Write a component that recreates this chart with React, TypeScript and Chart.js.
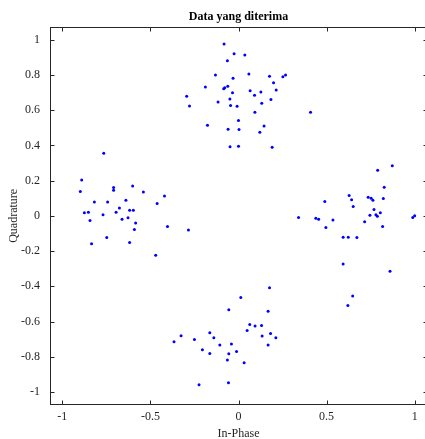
import React, { useEffect, useRef } from "react";
import { Chart, registerables } from "chart.js";

Chart.register(...registerables);

const chartTitle = "Data yang diterima";
const xAxisTitle = "In-Phase";
const yAxisTitle = "Quadrature";

const xTicks = [-1, -0.5, 0, 0.5, 1];
const xTickLabels = ["-1", "-0.5", "0", "0.5", "1"];
const yTicks = [-1, -0.8, -0.6, -0.4, -0.2, 0, 0.2, 0.4, 0.6, 0.8, 1];
const yTickLabels = ["-1", "-0.8", "-0.6", "-0.4", "-0.2", "0", "0.2", "0.4", "0.6", "0.8", "1"];
const axisMin = -1.07;
const axisMax = 1.07;

// Left cluster
const leftI = [-0.765, -0.89, -0.898, -0.709, -0.709, -0.601, -0.54, -0.42, -0.818, -0.743, -0.639, -0.676, -0.462, -0.875, -0.852, -0.769, -0.695, -0.618, -0.597, -0.843, -0.661, -0.627, -0.584, -0.403, -0.591, -0.834, -0.748, -0.618, -0.47, -0.284];
const leftQ = [0.356, 0.204, 0.138, 0.161, 0.146, 0.17, 0.136, 0.112, 0.078, 0.079, 0.089, 0.044, 0.07, 0.017, 0.021, 0.006, 0.021, 0.032, 0.032, -0.027, -0.019, -0.011, -0.04, -0.061, -0.078, -0.159, -0.123, -0.151, -0.223, -0.081];

// Top cluster
const topI = [-0.082, -0.025, 0.036, -0.063, -0.131, 0.059, 0.176, 0.252, 0.267, -0.031, 0.199, -0.188, -0.061, -0.078, -0.084, 0.214, 0.066, 0.127, -0.034, 0.091, -0.294, -0.049, 0.184, -0.116, 0.132, -0.278, -0.045, -0.008, 0.093, 0.409, 0.0, -0.176, 0.145, -0.059, 0.003, 0.121, -0.048, 0.0, 0.191];
const topQ = [0.976, 0.921, 0.913, 0.881, 0.8, 0.805, 0.792, 0.79, 0.8, 0.781, 0.756, 0.732, 0.736, 0.728, 0.722, 0.715, 0.711, 0.703, 0.699, 0.685, 0.679, 0.664, 0.66, 0.647, 0.639, 0.624, 0.626, 0.622, 0.588, 0.588, 0.541, 0.514, 0.51, 0.492, 0.49, 0.475, 0.393, 0.395, 0.39];

// Right cluster
const rightI = [0.873, 0.79, 0.827, 0.628, 0.736, 0.753, 0.763, 0.822, 0.642, 0.49, 0.651, 0.769, 0.805, 0.746, 0.78, 0.788, 0.341, 0.439, 0.455, 0.536, 0.716, 0.989, 1.0, 0.496, 0.818, 0.594, 0.623, 0.672, 0.594, 0.86, 0.648, 0.621];
const rightQ = [0.284, 0.259, 0.163, 0.115, 0.106, 0.1, 0.089, 0.098, 0.092, 0.081, 0.053, 0.036, 0.017, 0.004, 0.006, -0.002, -0.01, -0.013, -0.019, -0.024, -0.034, -0.01, 0.0, -0.066, -0.061, -0.121, -0.121, -0.123, -0.274, -0.314, -0.455, -0.509];

// Bottom cluster
const bottomI = [0.176, 0.013, -0.055, 0.168, 0.064, 0.094, 0.131, 0.049, -0.163, -0.326, -0.366, -0.14, -0.25, 0.182, 0.134, 0.212, -0.106, -0.04, 0.168, -0.205, -0.163, -0.055, -0.011, -0.063, 0.032, -0.224, -0.057];
const bottomQ = [-0.408, -0.463, -0.533, -0.541, -0.617, -0.626, -0.622, -0.651, -0.664, -0.681, -0.715, -0.692, -0.702, -0.668, -0.682, -0.692, -0.733, -0.728, -0.733, -0.76, -0.781, -0.783, -0.77, -0.819, -0.834, -0.959, -0.947];

const pairs = (xs: number[], ys: number[]) => xs.map((x, i) => ({ x, y: ys[i] }));

const TEXT = "#262626";
const FONT = "'Liberation Serif', 'Times New Roman', serif";

const boxPlugin = {
  id: "matlabBox",
  afterDatasetsDraw(chart: any) {
    const { ctx, chartArea, scales } = chart;
    const l = Math.round(chartArea.left) + 0.5;
    const r = Math.round(chartArea.right) + 0.5;
    const t = Math.round(chartArea.top) + 0.5;
    const b = Math.round(chartArea.bottom) + 0.5;
    const tl = 4;
    ctx.save();
    ctx.strokeStyle = TEXT;
    ctx.lineWidth = 1;
    ctx.strokeRect(l, t, r - l, b - t);
    ctx.beginPath();
    xTicks.forEach((v) => {
      const px = Math.round(scales.x.getPixelForValue(v)) + 0.5;
      ctx.moveTo(px, b);
      ctx.lineTo(px, b - tl);
      ctx.moveTo(px, t);
      ctx.lineTo(px, t + tl);
    });
    yTicks.forEach((v) => {
      const py = Math.round(scales.y.getPixelForValue(v)) + 0.5;
      ctx.moveTo(l, py);
      ctx.lineTo(l + tl, py);
      ctx.moveTo(r, py);
      ctx.lineTo(r - tl, py);
    });
    ctx.stroke();
    ctx.restore();
  },
};

export default function App() {
  const canvasRef = useRef<HTMLCanvasElement | null>(null);

  useEffect(() => {
    const canvas = canvasRef.current;
    if (!canvas) return;
    const data = [
      ...pairs(leftI, leftQ),
      ...pairs(topI, topQ),
      ...pairs(rightI, rightQ),
      ...pairs(bottomI, bottomQ),
    ];
    const chart = new Chart(canvas, {
      type: "scatter",
      data: {
        datasets: [
          {
            data,
            pointStyle: "circle",
            pointRadius: 1.5,
            pointHoverRadius: 1.5,
            pointBorderWidth: 0,
            backgroundColor: "#0000ff",
            borderColor: "#0000ff",
          },
        ],
      },
      options: {
        responsive: false,
        animation: false,
        devicePixelRatio: 1,
        layout: { padding: { top: 0, left: 0, right: 3, bottom: 0 } },
        plugins: {
          legend: { display: false },
          tooltip: { enabled: false },
          title: {
            display: true,
            text: chartTitle,
            fullSize: false,
            color: "#000",
            font: { family: FONT, size: 12, weight: "bold" },
            padding: { top: 10, bottom: 3 },
          },
        },
        scales: {
          x: {
            type: "linear",
            position: "bottom",
            min: axisMin,
            max: axisMax,
            grid: { display: false, drawTicks: false, tickLength: 0 },
            border: { display: false },
            afterBuildTicks: (scale: any) => {
              scale.ticks = xTicks.map((v) => ({ value: v }));
            },
            afterFit: (scale: any) => {
              scale.height = 34.7;
            },
            ticks: {
              color: TEXT,
              padding: 5,
              maxRotation: 0,
              autoSkip: false,
              font: { family: FONT, size: 12 },
              callback: (_v: any, i: number) => xTickLabels[i],
            },
            title: {
              display: true,
              text: xAxisTitle,
              color: TEXT,
              font: { family: FONT, size: 12 },
              padding: { top: 0, bottom: -2 },
            },
          },
          y: {
            type: "linear",
            position: "left",
            min: axisMin,
            max: axisMax,
            grid: { display: false, drawTicks: false, tickLength: 0 },
            border: { display: false },
            afterBuildTicks: (scale: any) => {
              scale.ticks = yTicks.map((v) => ({ value: v }));
            },
            afterFit: (scale: any) => {
              scale.width = 50;
            },
            ticks: {
              color: TEXT,
              padding: 10,
              autoSkip: false,
              font: { family: FONT, size: 12 },
              callback: (_v: any, i: number) => yTickLabels[i],
            },
            title: {
              display: true,
              text: yAxisTitle,
              color: TEXT,
              font: { family: FONT, size: 12 },
              padding: { top: 7, bottom: 0 },
            },
          },
        },
      },
      plugins: [boxPlugin],
    });
    return () => chart.destroy();
  }, []);

  return (
    <div
      style={{
        position: "absolute",
        left: 0,
        top: 0,
        width: 425,
        height: 439,
        overflow: "hidden",
        background: "#fff",
      }}
    >
      <canvas ref={canvasRef} width={430} height={439} style={{ display: "block", width: 430, height: 439 }} />
    </div>
  );
}
